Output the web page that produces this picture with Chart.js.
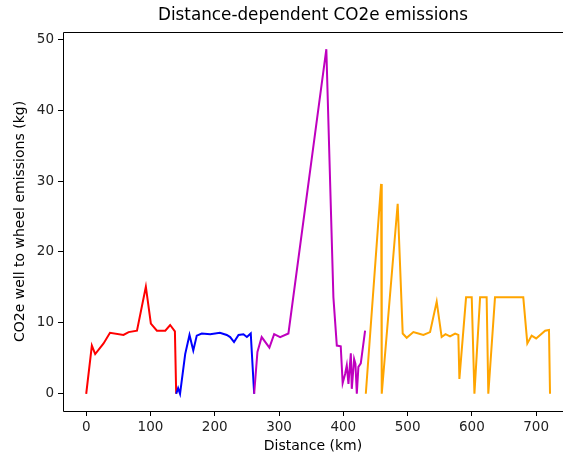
<!DOCTYPE html>
<html>
<head>
<meta charset="utf-8">
<script src="https://cdn.jsdelivr.net/npm/chart.js@4.4.0/dist/chart.umd.min.js"></script>
<style>
  html, body { margin: 0; padding: 0; overflow: hidden; background: #fff; }
  #wrap { width: 563px; height: 456px; }
</style>
</head>
<body>
<div id="wrap"><canvas id="myChart" width="563" height="456"></canvas></div>
<script>
// route legs, distance (km) and CO2e (kg)
const redKm  = [0, 8.8, 14, 27, 37, 58, 66, 79, 92.8, 100.6, 110, 123, 130.6, 138, 140];
const redCo2 = [0, 6.8, 5.6, 7.1, 8.6, 8.3, 8.7, 8.9, 15.1, 9.9, 8.9, 8.9, 9.7, 8.8, 0];

const blueKm  = [140, 143, 146, 154, 160.7, 166.6, 172, 179.8, 193, 208, 218.7, 224, 230, 237, 244.6, 250, 256, 261.3];
const blueCo2 = [0, 0.8, 0, 5.6, 8.3, 6.1, 8.2, 8.5, 8.4, 8.6, 8.3, 8.0, 7.3, 8.3, 8.4, 8.0, 8.5, 0];

const magentaKm  = [261.3, 266.4, 273, 285, 292.4, 301.7, 314.6, 373.6, 384.6, 389.9, 396, 399, 402.8, 405.4, 408, 411.7, 413.2, 416.8, 418.9, 421, 423.5, 427.2, 433.9];
const magentaCo2 = [0, 5.9, 8.0, 6.5, 8.4, 8.0, 8.5, 48.6, 13.6, 6.8, 6.7, 1.5, 2.8, 4.0, 1.4, 5.7, 0.7, 4.9, 4.2, 0, 3.8, 4.3, 8.9];

const orangeKm  = [435, 458.8, 459.8, 484.6, 492.4, 498.6, 509, 516.8, 524.6, 535, 545.3, 553, 559, 566, 573.9, 579, 580.6, 591, 599.8, 604, 612.8, 623, 625.6, 636, 680, 686.3, 693, 700, 714, 720, 721.6];
const orangeCo2 = [0, 29.6, 0, 26.8, 8.5, 7.9, 8.7, 8.5, 8.3, 8.7, 13.0, 8.0, 8.4, 8.1, 8.5, 8.3, 2.1, 13.6, 13.6, 0, 13.6, 13.6, 0, 13.6, 13.6, 7.1, 8.2, 7.8, 8.9, 9.0, 0];

const xTicks = [0, 100, 200, 300, 400, 500, 600, 700];
const yTicks = [0, 10, 20, 30, 40, 50];

function pts(xs, ys) {
  return xs.map((x, i) => ({ x: x, y: ys[i] }));
}

const legs = [
  { km: redKm, co2: redCo2, color: '#ff0000' },
  { km: blueKm, co2: blueCo2, color: '#0000ff' },
  { km: magentaKm, co2: magentaCo2, color: '#bf00bf' },
  { km: orangeKm, co2: orangeCo2, color: '#ffa500' }
];

// matplotlib style spines (the right one is cut off in the original picture)
const frame = {
  id: 'frame',
  afterDatasetsDraw(chart) {
    const a = chart.chartArea, ctx = chart.ctx;
    const l = Math.round(a.left) + 0.5, t = Math.round(a.top) + 0.5, b = Math.round(a.bottom) + 0.5;
    ctx.save();
    ctx.strokeStyle = '#000';
    ctx.lineWidth = 1;
    ctx.beginPath();
    ctx.moveTo(a.right, t);
    ctx.lineTo(l, t);
    ctx.lineTo(l, b);
    ctx.lineTo(a.right, b);
    ctx.stroke();
    ctx.restore();
  }
};

const tickFont = { family: 'DejaVu Sans', size: 13.5 };
const labelFont = { family: 'DejaVu Sans', size: 14 };

new Chart(document.getElementById('myChart'), {
  type: 'scatter',
  data: {
    datasets: legs.map((l, i) => ({
      data: pts(l.km, l.co2),
      showLine: true,
      borderColor: l.color,
      backgroundColor: l.color,
      borderWidth: 2,
      pointRadius: 0,
      tension: 0,
      order: legs.length - i
    }))
  },
  options: {
    responsive: false,
    animation: false,
    devicePixelRatio: 1,
    layout: { padding: 0 },
    plugins: {
      legend: { display: false },
      tooltip: { enabled: false },
      title: {
        display: true,
        text: 'Distance-dependent CO2e emissions',
        fullSize: false,
        color: '#000',
        font: { family: 'DejaVu Sans', size: 16.8, weight: 'normal' },
        padding: { top: 5.9, bottom: 5.9 }
      }
    },
    scales: {
      x: {
        type: 'linear',
        min: -36.1,
        max: 741.8,
        afterBuildTicks: s => { s.ticks = xTicks.map(v => ({ value: v })); },
        afterFit: s => { s.height = 45; s.paddingLeft = 0; s.paddingRight = 0; },
        grid: { drawOnChartArea: false, drawTicks: true, tickLength: 5, tickColor: '#000', color: '#000' },
        border: { display: false },
        ticks: { color: '#222', font: tickFont, padding: 3, maxRotation: 0 },
        title: { display: true, text: 'Distance (km)', color: '#000', font: labelFont, padding: { top: 0, bottom: 1.6 } }
      },
      y: {
        min: -2.43,
        max: 51.03,
        afterBuildTicks: s => { s.ticks = yTicks.map(v => ({ value: v })); },
        afterFit: s => { s.width = 63; s.paddingTop = 0; s.paddingBottom = 0; },
        grid: { drawOnChartArea: false, drawTicks: true, tickLength: 5, tickColor: '#000', color: '#000' },
        border: { display: false },
        ticks: { color: '#222', font: tickFont, padding: 4 },
        title: { display: true, text: 'CO2e well to wheel emissions (kg)', color: '#000', font: labelFont, padding: { top: 12, bottom: 0 } }
      }
    }
  },
  plugins: [frame]
});
</script>
</body>
</html>
